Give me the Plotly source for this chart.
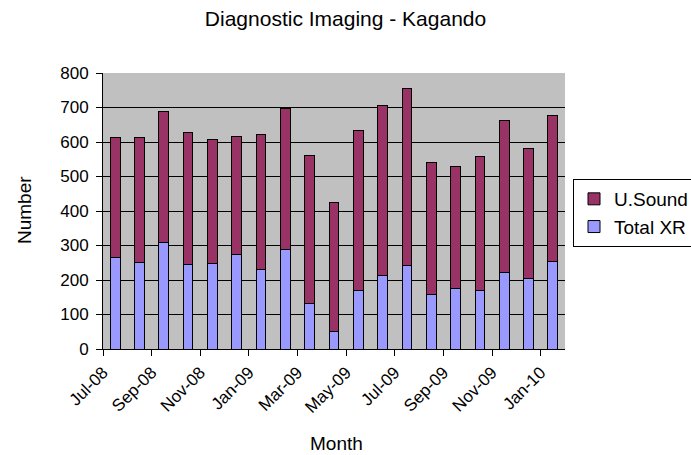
import plotly.graph_objects as go

months = ["Jul-08", "Aug-08", "Sep-08", "Oct-08", "Nov-08", "Dec-08", "Jan-09",
          "Feb-09", "Mar-09", "Apr-09", "May-09", "Jun-09", "Jul-09", "Aug-09",
          "Sep-09", "Oct-09", "Nov-09", "Dec-09", "Jan-10"]
total_xr = [265, 252, 308, 245, 248, 275, 231, 288, 132, 52, 169, 214, 241, 158,
            175, 169, 222, 205, 255]
u_sound = [349, 362, 379, 382, 359, 342, 392, 408, 428, 372, 464, 493, 513, 382,
           353, 388, 441, 375, 421]
tick_labels = ["Jul-08", "Sep-08", "Nov-08", "Jan-09", "Mar-09", "May-09",
               "Jul-09", "Sep-09", "Nov-09", "Jan-10"]

x = list(range(len(months)))
font = "Liberation Sans, Arial, sans-serif"

fig = go.Figure()
fig.add_trace(go.Bar(x=x, y=total_xr, name="Total XR", width=0.4,
                     marker=dict(color="#9999FF", line=dict(color="black", width=1)),
                     customdata=months))
fig.add_trace(go.Bar(x=x, y=u_sound, name="U.Sound", width=0.4,
                     marker=dict(color="#993366", line=dict(color="black", width=1)),
                     customdata=months))

fig.update_layout(
    width=691, height=455,
    barmode="stack",
    paper_bgcolor="white",
    plot_bgcolor="#C0C0C0",
    margin=dict(l=103, r=126, t=73, b=106, autoexpand=False),
    font=dict(family=font, size=17, color="black"),
    title=dict(text="Diagnostic Imaging - Kagando", x=0.5, xanchor="center",
               y=0.958, yanchor="middle", font=dict(size=21)),
    showlegend=True,
    legend=dict(traceorder="reversed", x=(573 - 103) / 462, xanchor="left",
                y=0.616, yanchor="top", bordercolor="black", borderwidth=1,
                bgcolor="white", font=dict(size=19), tracegroupgap=0),
    xaxis=dict(range=[-0.5, len(months) - 0.5], tickmode="array",
               tickvals=[i * 2 - 0.5 for i in range(len(tick_labels))],
               ticktext=tick_labels, tickangle=-45, showgrid=False,
               showline=True, linecolor="black", linewidth=1,
               ticks="outside", ticklen=6, tickcolor="black",
               zeroline=False, automargin=False),
    yaxis=dict(range=[0, 800], dtick=100, showgrid=True, gridcolor="black",
               gridwidth=1, showline=True, linecolor="black", linewidth=1,
               ticks="outside", ticklen=6, tickcolor="black",
               ticklabelstandoff=4, zeroline=False, automargin=False),
    annotations=[
        dict(text="Month", xref="paper", yref="paper", x=0.506, y=-0.3406,
             xanchor="center", yanchor="middle", showarrow=False,
             font=dict(size=19)),
        dict(text="Number", xref="paper", yref="paper", x=-0.171, y=0.5036,
             xanchor="center", yanchor="middle", textangle=-90,
             showarrow=False, font=dict(size=19)),
    ],
)

fig.write_html("out.html")
